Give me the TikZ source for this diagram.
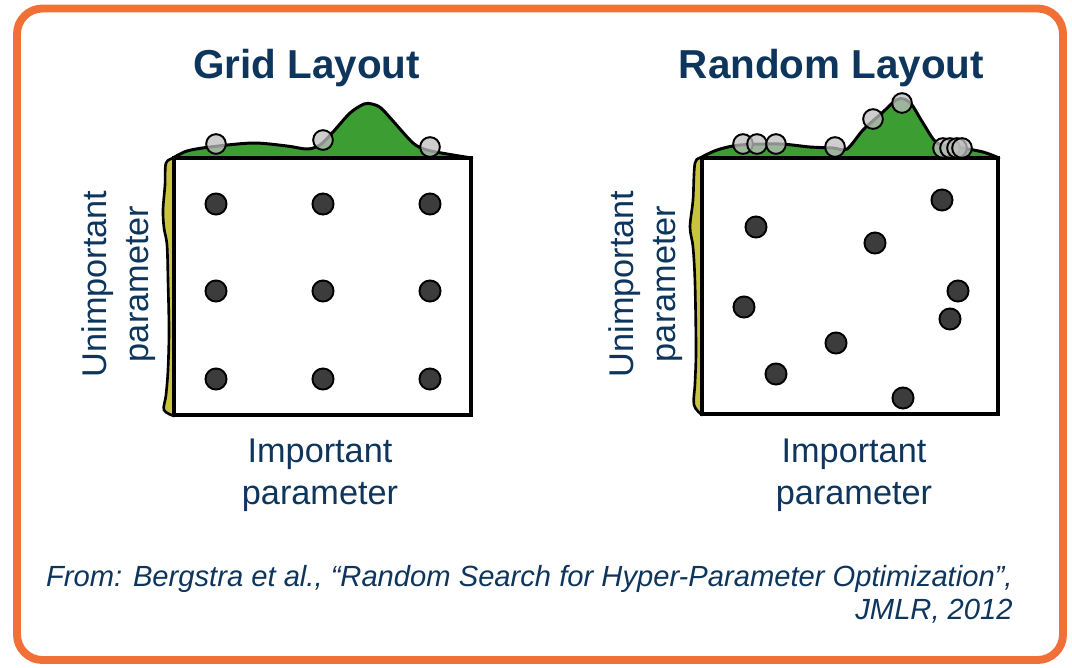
\documentclass[tikz,border=0pt]{standalone}
\usepackage{fontspec}
\setmainfont{Liberation Sans}
\definecolor{navy}{HTML}{0E355C}
\definecolor{frameorange}{HTML}{F07038}
\definecolor{densgreen}{HTML}{3C9E32}
\definecolor{densyellow}{HTML}{C9C43E}
\definecolor{dotgray}{HTML}{3C3C3C}
\definecolor{ringgray}{HTML}{BEBEBE}
\begin{document}
\begin{tikzpicture}[x=0.02cm,y=-0.02cm,
  outerframe/.style={draw=frameorange,line width=4.5pt,rounded corners=14.5pt},
  plotbox/.style={draw=black,line width=2pt,fill=white},
  greendens/.style={draw=black,line width=1.7pt,fill=densgreen,line join=round},
  yellowdens/.style={draw=black,line width=1.5pt,fill=densyellow,line join=round},
  ring/.style={draw=black,line width=1.1pt,fill=ringgray,fill opacity=0.75},
  sample/.style={draw=black,line width=1.1pt,fill=dotgray},
  title/.style={font=\fontsize{23pt}{27pt}\selectfont\bfseries,text=navy,inner sep=0pt},
  axislabel/.style={font=\fontsize{19.5pt}{24pt}\selectfont,text=navy,align=center,inner sep=0pt},
  citation/.style={font=\fontsize{16.6pt}{18.6pt}\selectfont\itshape,text=navy,align=right,inner sep=0pt}]
\useasboundingbox (0,0) rectangle (1072,667);
\fill[white] (0,0) rectangle (1072,667);
\draw[outerframe] (17,8.5) rectangle (1063,660);

% ---------------- grid layout ----------------
\node[title,anchor=base] (gridtitle) at (306.5,78) {Grid Layout};
\draw[greendens] plot[smooth,tension=0.5] coordinates {
  (173,158) (187,151) (210,147) (253,143) (287,146) (307,149) (320,145)
  (333,132) (350,113) (364,104) (372,104) (381,108) (393,121) (413,143)
  (427,150) (453,155) (472,158)} -- cycle;
\draw[yellowdens] plot[smooth,tension=0.55] coordinates {
  (174,158) (166,163) (165,185) (163,210) (164,228) (167,245) (168,280)
  (169,330) (168,370) (166,395) (164,410) (174,416)} -- cycle;
\draw[plotbox] (174,158) rectangle (471,415);
\foreach \x in {216,323,430}{\foreach \y in {204,291,379}{
  \draw[sample] (\x,\y) circle[radius=6pt];}}
\foreach \x/\y in {216/144,323/140,430/147}{
  \draw[ring] (\x,\y) circle[radius=5.6pt];}
\node[axislabel] (gridx) at (320,475) {Important\\parameter};
\node[axislabel,rotate=90] (gridy) at (119,284) {Unimportant\\parameter};

% ---------------- random layout ----------------
\node[title,anchor=base] (randtitle) at (831.5,78) {Random Layout};
\draw[greendens] plot[smooth,tension=0.5] coordinates {
  (700,158) (717,150) (740,145) (780,144) (810,147) (833,148) (847,149)
  (863,130) (883,112) (896,100) (904,99) (912,105) (923,123) (937,143)
  (957,147) (983,152) (999,158)} -- cycle;
\draw[yellowdens] plot[smooth,tension=0.55] coordinates {
  (702,158) (695,163) (693,200) (690,227) (693,247) (695,283) (696,350)
  (695,383) (694,405) (702,415)} -- cycle;
\draw[plotbox] (702,158) rectangle (998,414);
\foreach \x/\y in {942/200,756/227,875/243,958/291,744/307,950/319,
  836/343,776/374,903/398}{
  \draw[sample] (\x,\y) circle[radius=6pt];}
\foreach \x/\y in {743/144,757/144,776/144,835/147,873/119,902/103,
  943/148,950/148,957/148,962/148}{
  \draw[ring] (\x,\y) circle[radius=5.6pt];}
\node[axislabel] (randx) at (854,475) {Important\\parameter};
\node[axislabel,rotate=90] (randy) at (646,284) {Unimportant\\parameter};

% ---------------- source ----------------
\node[citation,anchor=north east] (cite) at (1013,565)
  {From: Bergstra et al., “Random Search for Hyper-Parameter Optimization”,\\JMLR, 2012};
\end{tikzpicture}
\end{document}
